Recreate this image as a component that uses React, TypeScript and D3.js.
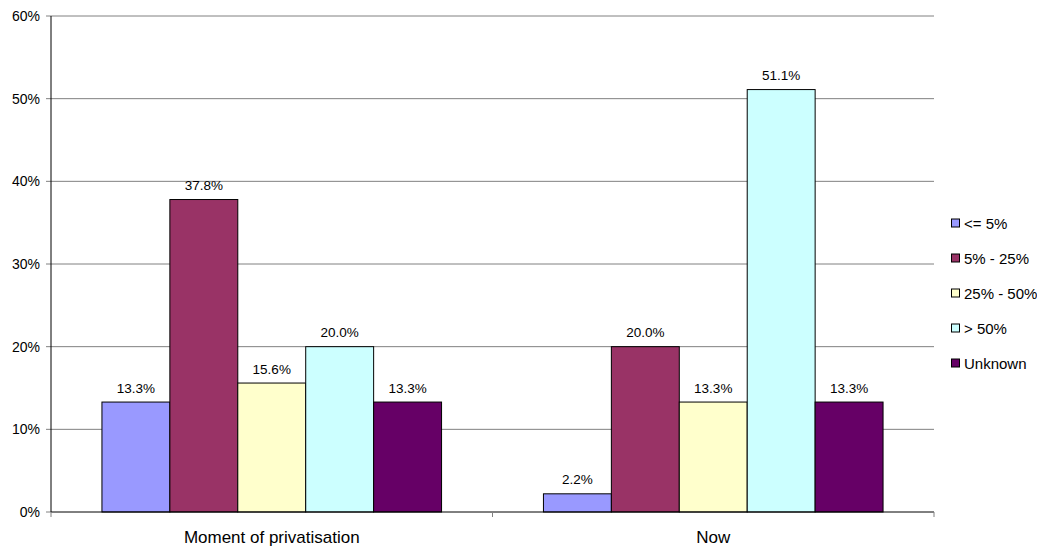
import React from "react";
import * as d3 from "d3";

const categories = ["Moment of privatisation", "Now"];
const seriesNames = ["<= 5%", "5% - 25%", "25% - 50%", "> 50%", "Unknown"];
const seriesColors = ["#9999FF", "#993366", "#FFFFCC", "#CCFFFF", "#660066"];
const moment = [13.3, 37.8, 15.6, 20.0, 13.3];
const now = [2.2, 20.0, 13.3, 51.1, 13.3];
const yTicks = [0, 10, 20, 30, 40, 50, 60];

const values = [moment, now];

export default function App() {
  const W = 1037, H = 550;
  const left = 51, right = 934, top = 16, bottom = 512;
  const x0 = d3.scaleBand<string>().domain(categories).range([left, right]).paddingInner(0).paddingOuter(0);
  const y = d3.scaleLinear().domain([0, 60]).range([bottom, top]);
  const cw = x0.bandwidth();
  const bw = cw / (5 + 1.5);
  const font = "'Liberation Sans', Arial, sans-serif";

  return (
    <svg width={W} height={H} style={{ position: "absolute", left: 0, top: 0 }} fontFamily={font}>
      <rect x={0} y={0} width={W} height={H} fill="#fff" />
      {yTicks.map((t) => (
        <g key={t}>
          {t > 0 && <line x1={left} x2={right} y1={y(t)} y2={y(t)} stroke="#808080" strokeWidth={1} />}
          <line x1={left - 5} x2={left} y1={y(t)} y2={y(t)} stroke="#808080" />
          <text x={left - 11} y={y(t)} dy="0.35em" textAnchor="end" fontSize={14} fill="#000">{t}%</text>
        </g>
      ))}
      {categories.map((c, ci) => {
        const start = (x0(c) as number) + bw * 0.75;
        return (
          <g key={c}>
            {values[ci].map((v, si) => (
              <g key={si}>
                <rect x={start + si * bw} y={y(v)} width={bw} height={bottom - y(v)} fill={seriesColors[si]} stroke="#000" strokeWidth={1} />
                <text x={start + si * bw + bw / 2} y={y(v) - 9.5} textAnchor="middle" fontSize={13.5} fill="#000">{v.toFixed(1)}%</text>
              </g>
            ))}
            <text x={(x0(c) as number) + cw / 2} y={bottom + 31} textAnchor="middle" fontSize={17} fill="#000">{c}</text>
          </g>
        );
      })}
      <line x1={left} x2={left} y1={top} y2={bottom} stroke="#000" />
      <line x1={left} x2={right} y1={bottom} y2={bottom} stroke="#000" />
      {[left, left + cw, right].map((tx, i) => (
        <line key={i} x1={tx} x2={tx} y1={bottom} y2={bottom + 5} stroke="#808080" />
      ))}
      {seriesNames.map((n, i) => (
        <g key={n}>
          <rect x={951.5} y={219 + i * 35} width={8} height={8} fill={seriesColors[i]} stroke="#000" />
          <text x={964} y={223.5 + i * 35} dy="0.35em" fontSize={15} fill="#000">{n}</text>
        </g>
      ))}
    </svg>
  );
}
